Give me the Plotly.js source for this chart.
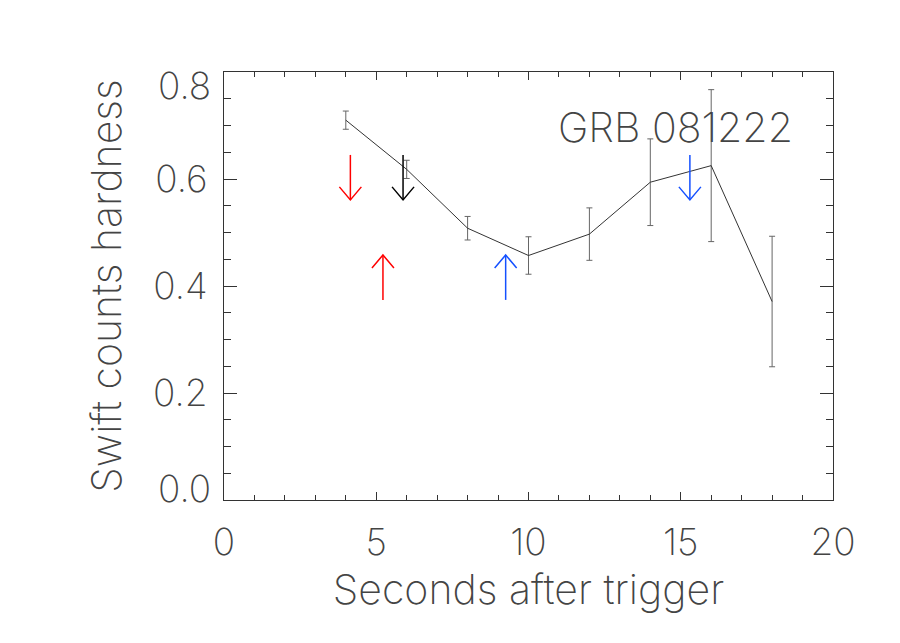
<!DOCTYPE html>
<html>
<head>
<meta charset="utf-8">
<script src="https://cdn.plot.ly/plotly-3.0.1.min.js"></script>
<style>html,body{margin:0;padding:0;background:#fff;}#chart{width:900px;height:643px;}</style>
</head>
<body>
<div id="chart"></div>
<script>
// Hardness data
const timeSec = [4, 6, 8, 10, 12, 14, 16, 18];
const hardness = [0.710, 0.618, 0.508, 0.457, 0.497, 0.594, 0.625, 0.371];
const hardErr = [0.017, 0.017, 0.022, 0.035, 0.049, 0.081, 0.142, 0.122];

// Arrow markers: x position, tail value, tip value, colour
const arrowX = [4.15, 5.88, 5.22, 9.25, 15.3];
const arrowTail = [0.645, 0.645, 0.374, 0.374, 0.645];
const arrowTip = [0.561, 0.561, 0.458, 0.458, 0.561];
const arrowColor = ['#ff0000', '#000000', '#ff0000', '#1450ff', '#1450ff'];

const xRange = [0, 20];
const yRange = [0, 0.8];
const xTickVals = [0, 5, 10, 15, 20];
const xTickText = ['0', '5', '10', '15', '20'];
const yTickVals = [0, 0.2, 0.4, 0.6, 0.8];
const yTickText = ['0.0', '0.2', '0.4', '0.6', '0.8'];

const margin = {l: 224, r: 67, t: 72, b: 143};
const plotW = 900 - margin.l - margin.r;
const plotH = 643 - margin.t - margin.b;
const pxX = (xRange[1] - xRange[0]) / plotW;
const pxY = (yRange[1] - yRange[0]) / plotH;
const headHalfW = 11 * pxX;
const headH = 13 * pxY;

const baseFont = {family: 'Inter, DejaVu Sans, sans-serif', color: '#444444', weight: 200};
const tickFont = Object.assign({size: 37}, baseFont);
const titleFont = Object.assign({size: 41}, baseFont);

const traces = [{
  x: timeSec, y: hardness, type: 'scatter', mode: 'lines',
  line: {color: '#333333', width: 1},
  error_y: {type: 'data', array: hardErr, visible: true, color: '#666666', thickness: 1, width: 3},
  hoverinfo: 'x+y', showlegend: false
}];

arrowX.forEach((ax, i) => {
  const tail = arrowTail[i], tip = arrowTip[i];
  const dir = tip < tail ? 1 : -1;
  traces.push({
    x: [ax, ax, null, ax - headHalfW, ax, ax + headHalfW],
    y: [tail, tip, null, tip + dir * headH, tip, tip + dir * headH],
    type: 'scatter', mode: 'lines',
    line: {color: arrowColor[i], width: 1.5},
    hoverinfo: 'skip', showlegend: false
  });
});

// IDL keeps the end labels of the y axis inside the frame: draw those two as shifted labels
const lastI = yTickVals.length - 1;
const yEndLabels = [0, lastI].map(i => ({
  x: 0, y: yTickVals[i], xref: 'paper', yref: 'y', xanchor: 'right', yanchor: 'middle',
  xshift: -11, yshift: i === 0 ? 12 : -13,
  text: yTickText[i], showarrow: false, font: tickFont
}));

const layout = {
  width: 900, height: 643,
  margin: margin,
  paper_bgcolor: '#ffffff', plot_bgcolor: '#ffffff',
  font: tickFont,
  xaxis: {
    range: xRange, tickvals: xTickVals, ticktext: xTickText,
    ticks: 'inside', ticklen: 8, tickwidth: 1, tickcolor: '#333',
    minor: {dtick: 1, ticklen: 5, ticks: 'inside', tickcolor: '#333', tickwidth: 1, showgrid: false},
    showline: true, linecolor: '#333', linewidth: 1, mirror: 'allticks',
    showgrid: false, zeroline: false,
    ticklabelstandoff: 10,
    tickfont: tickFont,
    title: {text: 'Seconds after trigger', font: titleFont, standoff: 1}
  },
  yaxis: {
    range: yRange, tickvals: yTickVals,
    ticktext: yTickText.map((t, i) => (i === 0 || i === lastI) ? '' : t),
    ticks: 'inside', ticklen: 13, tickwidth: 1, tickcolor: '#333',
    minor: {dtick: 0.05, ticklen: 7, ticks: 'inside', tickcolor: '#333', tickwidth: 1, showgrid: false},
    showline: true, linecolor: '#333', linewidth: 1, mirror: 'allticks',
    showgrid: false, zeroline: false,
    ticklabelstandoff: 8,
    tickfont: tickFont,
    title: {text: 'Swift counts hardness', font: titleFont, standoff: 18}
  },
  annotations: yEndLabels.concat([{
    x: 11.0, y: 0.697, xref: 'x', yref: 'y', xanchor: 'left', yanchor: 'middle', xshift: -3,
    text: 'GRB 081222', showarrow: false, font: titleFont
  }])
};

Plotly.newPlot('chart', traces, layout, {displayModeBar: false, staticPlot: true});
</script>
</body>
</html>
